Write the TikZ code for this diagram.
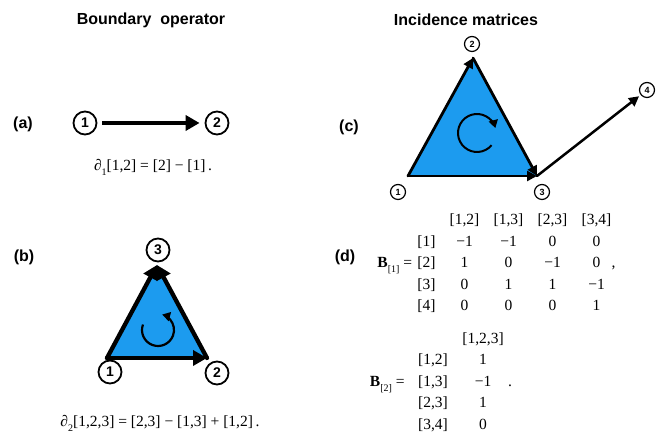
\documentclass[tikz,border=0pt]{standalone}
\usepackage{fontspec}
\setmainfont{Liberation Serif}
\setsansfont{Liberation Sans}
\usetikzlibrary{arrows.meta,positioning,matrix}
\definecolor{simplex}{HTML}{1C9BEF}
\newcommand\dsub[1]{\raisebox{-0.3em}{\fontsize{10}{10}\selectfont #1}}

\begin{document}
\begin{tikzpicture}[x=1pt,y=1pt,
  title/.style={font=\sffamily\bfseries\fontsize{16}{19}\selectfont},
  panel/.style={font=\sffamily\bfseries\fontsize{16}{19}\selectfont},
  vtx/.style={circle, draw, line width=1.8pt, inner sep=0pt, minimum size=23pt, font=\sffamily\bfseries\fontsize{14}{14}\selectfont},
  svtx/.style={circle, draw, line width=1.2pt, inner sep=0pt, minimum size=15pt, font=\sffamily\bfseries\fontsize{9}{9}\selectfont},
  eq/.style={font=\fontsize{15.5}{18}\selectfont, inner sep=0pt},
  bigedge/.style={line width=4.3pt, line cap=round, -{Triangle[length=14pt,width=15pt]}},
  edge/.style={line width=2.8pt, line cap=round, -{Triangle[length=10pt,width=10pt]}},
  orient/.style={line width=2.2pt, -{Triangle[length=8pt,width=9pt]}},
  inc/.style={matrix of nodes, row sep=0pt, column sep=0pt,
    nodes={font=\fontsize{15.5}{18}\selectfont, inner sep=0pt, text height=11pt, text depth=4pt, minimum height=21.5pt, anchor=center}},
]
\useasboundingbox (0,0) rectangle (661,435);
% headings
\node[title] (ttlL) at (151,415) {Boundary\ \ operator};
\node[title] (ttlR) at (466,415) {Incidence matrices};
% (a) one edge
\node[panel] (la) at (23,311) {(a)};
\node[vtx] (a1) at (85,312) {1};
\node[vtx] (a2) at (217,312) {2};
\draw[bigedge, line cap=butt, shorten <=5pt, shorten >=5pt] (a1) -- (a2);
\node[eq, anchor=base] (fa) at (153,264) {{\itshape ∂}\dsub{1}[1,2] = [2] − [1]\,.};
% (b) one triangle
\node[panel] (lb) at (24,178) {(b)};
\coordinate (b1) at (107,77);
\coordinate (b2) at (207,77);
\coordinate (b3) at (157,170);
\fill[simplex] (b1) -- (b2) -- (b3) -- cycle;
\draw[bigedge] (b1) -- (b2);
\draw[bigedge] (b1) -- (b3);
\draw[bigedge] (b2) -- (b3);
\node[vtx] (b1n) at (110,63) {1};
\node[vtx] (b2n) at (217,62) {2};
\node[vtx] (b3n) at (158,185) {3};
\coordinate (bo) at (158,105);
\draw[orient] (bo) ++(160:16pt) arc[start angle=160, end angle=435, radius=16pt];
\node[eq, anchor=base] (fb) at (160,8) {{\itshape ∂}\dsub{2}[1,2,3] = [2,3] − [1,3] + [1,2]\,.};
% (c) triangle plus a dangling edge
\node[panel] (lc) at (349,308) {(c)};
\coordinate (c1) at (408,259);
\coordinate (c2) at (473,377);
\coordinate (c3) at (537,259);
\fill[simplex] (c1) -- (c2) -- (c3) -- cycle;
\draw[edge] (c1) -- (c2);
\draw[edge] (c2) -- (c3);
\draw[edge] (c1) -- (c3);
\node[svtx] (c1n) at (398,243) {1};
\node[svtx] (c2n) at (472,391) {2};
\node[svtx] (c3n) at (542,243) {3};
\node[svtx] (c4n) at (647,345) {4};
\draw[edge, line width=2.5pt, shorten >=2pt] (c3) -- (c4n);
\coordinate (co) at (477,302);
\draw[orient, line width=2pt] (co) ++(-40:19pt) arc[start angle=-40, end angle=-345, radius=19pt];
% (d) the two matrices
\node[panel] (ld) at (345,178) {(d)};
\matrix (B1) [inc, nodes={minimum width=44pt}, column 1/.style={nodes={minimum width=32pt}}] at (514.5,170.5) {
  & {[1,2]} & {[1,3]} & {[2,3]} & {[3,4]} \\
  {[1]} & −1 & −1 & 0 & 0 \\
  {[2]} & 1 & 0 & −1 & 0 \\
  {[3]} & 0 & 1 & 1 & −1 \\
  {[4]} & 0 & 0 & 0 & 1 \\
};
\node[eq, anchor=base east] (B1eq) at ([xshift=2pt]B1-3-1.base west) {\textbf{B}\dsub{[1]}\ =};
\node[eq, anchor=base] (B1end) at ([xshift=17pt]B1-3-5.base) {,};
\matrix (B2) [inc, nodes={minimum width=50pt}] at (458,52) {
  & {[1,2,3]} \\
  {[1,2]} & 1 \\
  {[1,3]} & −1 \\
  {[2,3]} & 1 \\
  {[3,4]} & 0 \\
};
\node[eq, anchor=base east] (B2eq) at ([xshift=-3pt]B2-3-1.base west) {\textbf{B}\dsub{[2]}\ =};
\node[eq, anchor=base] (B2end) at ([xshift=27pt]B2-3-2.base) {.};
\end{tikzpicture}
\end{document}
